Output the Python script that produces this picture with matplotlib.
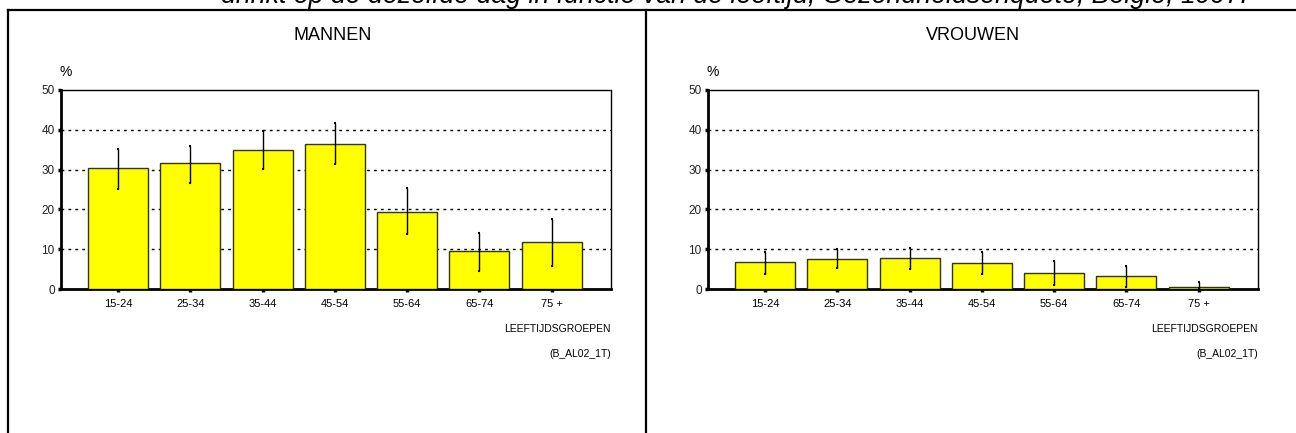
import matplotlib
matplotlib.use("Agg")
import matplotlib.pyplot as plt
from matplotlib.lines import Line2D

plt.rcParams['font.family'] = ['Liberation Sans', 'DejaVu Sans']

# age groups
groups = ["15-24", "25-34", "35-44", "45-54", "55-64", "65-74", "75 +"]

# men: percentage with confidence interval
men = [30.4, 31.6, 34.9, 36.4, 19.4, 9.5, 11.7]
men_high = [35.2, 36.0, 39.6, 41.6, 25.5, 14.0, 17.5]
men_low = [25.1, 26.6, 30.2, 31.4, 13.8, 4.5, 5.8]

# women
women = [6.9, 7.5, 7.9, 6.6, 4.0, 3.3, 0.5]
women_high = [9.4, 10.0, 10.4, 9.4, 7.0, 5.9, 1.7]
women_low = [3.7, 5.2, 5.0, 3.8, 0.9, 0.5, 0.0]

yticks = [0, 10, 20, 30, 40, 50]

title = ("drinkt op de dezelfde dag in functie van de leeftijd, "
         "Gezondheidsenquête, België, 1997.")

W, H = 1296, 433
fig = plt.figure(figsize=(W / 100, H / 100), dpi=100)


def fx(px):
    return px / W


def fy(py):
    return 1 - py / H


def panel(left_px, values, high, low, name, name_x):

    ax = fig.add_axes([fx(left_px), fy(289), fx(550), 199 / H])

    x = list(range(len(groups)))
    err = [[v - l for v, l in zip(values, low)],
           [h - v for v, h in zip(values, high)]]

    ax.bar(x, values, width=0.83, color="#ffff00",
           edgecolor="#333300", linewidth=1.0, zorder=3)
    ax.errorbar(x, values, yerr=err, fmt="none", ecolor="black",
                elinewidth=1.0, capsize=1.0, capthick=1.5, zorder=4)

    ax.set_xlim(-0.79, 6.82)
    ax.set_ylim(0, 50)
    ax.set_yticks(yticks)
    ax.set_xticks(x)
    ax.set_xticklabels(groups, fontsize=8)
    ax.set_yticklabels([str(t) for t in yticks], fontsize=8.5, color="#222222")

    ax.tick_params(axis="both", direction="out", length=2.5, width=2.5,
                   color="black", pad=2)
    ax.tick_params(axis="x", pad=5)

    for t in [10, 20, 30, 40]:
        ax.axhline(t, color="black", linewidth=1, linestyle=(0, (2, 3)),
                   zorder=1)

    ax.spines["left"].set_linewidth(2)
    ax.spines["bottom"].set_linewidth(2)
    ax.spines["right"].set_linewidth(1)
    ax.spines["top"].set_linewidth(1)
    ax.spines["top"].set_linestyle((0, (3, 1)))

    ax.text(0.009, 1.09, "%", transform=ax.transAxes, ha="center",
            va="center", fontsize=10)

    fig.text(fx(left_px + 550), fy(329), "LEEFTIJDSGROEPEN", ha="right",
             va="center", fontsize=7.5)
    fig.text(fx(left_px + 550), fy(354), "(B_AL02_1T)", ha="right",
             va="center", fontsize=7.5)

    fig.text(fx(name_x), fy(36), name, ha="center", va="center",
             fontsize=13)

    return ax


panel(61, men, men_high, men_low, "MANNEN", 333)
panel(708, women, women_high, women_low, "VROUWEN", 973)

# frame lines
frame = dict(color="black", linewidth=1.6, transform=fig.transFigure)
fig.add_artist(Line2D([fx(8), 1], [fy(10), fy(10)], **frame))
fig.add_artist(Line2D([fx(8), fx(8)], [fy(10), 0], **frame))
fig.add_artist(Line2D([fx(646), fx(646)], [fy(10), 0], **frame))

# title line is cut off at the top edge, as in the original page
fig.text(fx(734), fy(3), title, ha="center", va="baseline",
         fontsize=19.3, style="italic")

fig.savefig("out.png", dpi=100)
